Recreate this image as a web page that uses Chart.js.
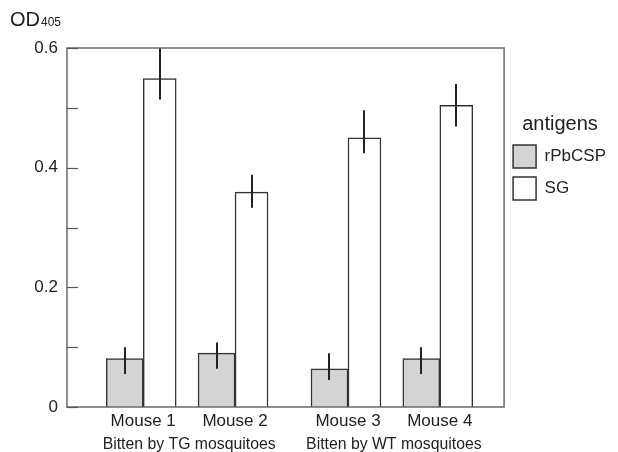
<!DOCTYPE html>
<html><head><meta charset="utf-8">
<script src="https://cdn.jsdelivr.net/npm/chart.js@4"></script>
<style>html,body{margin:0;padding:0;background:#fff}#wrap{width:618px;height:452px;position:relative}</style>
</head><body><div id="wrap"><canvas id="c"></canvas></div>
<script>
// ---- data ----
const categories = ['Mouse 1', 'Mouse 2', 'Mouse 3', 'Mouse 4'];
const groupOfCategory = [0, 0, 1, 1];
const groupLabels = ['Bitten by TG mosquitoes', 'Bitten by WT mosquitoes'];
const seriesNames = ['rPbCSP', 'SG'];
const rPbCSP = [0.081, 0.090, 0.064, 0.081];
const rPbCSPLow = [0.055, 0.064, 0.045, 0.055];
const rPbCSPHigh = [0.100, 0.108, 0.090, 0.100];
const sg = [0.549, 0.359, 0.450, 0.504];
const sgLow = [0.514, 0.333, 0.424, 0.469];
const sgHigh = [0.600, 0.388, 0.496, 0.540];
const yTickLabels = [0, 0.2, 0.4, 0.6];
const yAxisTitle = 'OD';
const yAxisSub = '405';
const legendTitle = 'antigens';

// ---- layout helpers ----
const FONT = "'Liberation Sans', Arial, sans-serif";
const GROUP_GAP = 0.23;
const pos = i => i + 1 + GROUP_GAP * groupOfCategory[i];
const groupPos = g => {
  const idx = categories.map((_, i) => i).filter(i => groupOfCategory[i] === g);
  return idx.reduce((s, i) => s + pos(i), 0) / idx.length;
};
const X_MIN = 0.17, X_MAX = pos(categories.length - 1) + 0.70;

const errs = [[rPbCSPLow, rPbCSPHigh], [sgLow, sgHigh]];

const extras = {
  id: 'extras',
  afterDatasetsDraw(chart) {
    const { ctx, chartArea: a, scales: { y } } = chart;
    ctx.save();
    ctx.beginPath();
    ctx.rect(a.left, a.top, a.right - a.left, a.bottom - a.top);
    ctx.clip();
    ctx.strokeStyle = '#222';
    ctx.lineWidth = 2;
    errs.forEach(([lo, hi], di) => {
      chart.getDatasetMeta(di).data.forEach((bar, j) => {
        const x = Math.round(bar.x);
        ctx.beginPath();
        ctx.moveTo(x, y.getPixelForValue(lo[j]));
        ctx.lineTo(x, y.getPixelForValue(hi[j]));
        ctx.stroke();
      });
    });
    ctx.restore();
    // frame
    ctx.save();
    ctx.strokeStyle = '#6a6a6a';
    ctx.lineWidth = 1.5;
    ctx.strokeRect(a.left, a.top, a.right - a.left, a.bottom - a.top);
    // inside ticks
    ctx.strokeStyle = '#555';
    ctx.lineWidth = 1.2;
    y.ticks.forEach(t => {
      const py = Math.round(y.getPixelForValue(t.value)) + 0.5;
      ctx.beginPath();
      ctx.moveTo(a.left, py);
      ctx.lineTo(a.left + 11, py);
      ctx.stroke();
    });
    ctx.restore();
  },
  afterDraw(chart) {
    const { ctx } = chart;
    ctx.save();
    ctx.fillStyle = '#222';
    ctx.textBaseline = 'alphabetic';
    ctx.font = '20px ' + FONT;
    ctx.fillText(yAxisTitle, 10, 26);
    const w = ctx.measureText(yAxisTitle).width;
    ctx.font = '12px ' + FONT;
    ctx.fillText(yAxisSub, 10 + w + 1, 26);
    ctx.restore();
  }
};

new Chart(document.getElementById('c'), {
  type: 'bar',
  data: {
    datasets: [
      {
        label: seriesNames[0],
        data: rPbCSP.map((v, i) => ({ x: pos(i), y: v })),
        backgroundColor: '#d4d4d4',
        borderColor: '#333',
        borderWidth: 1.5,
        barThickness: 37
      },
      {
        label: seriesNames[1],
        data: sg.map((v, i) => ({ x: pos(i), y: v })),
        backgroundColor: '#ffffff',
        borderColor: '#333',
        borderWidth: 1.5,
        barThickness: 33
      }
    ]
  },
  options: {
    responsive: true,
    maintainAspectRatio: false,
    animation: false,
    devicePixelRatio: 1,
    layout: { padding: { top: 48, left: 0, right: 2, bottom: 0 } },
    plugins: {
      tooltip: { enabled: false },
      legend: {
        position: 'right',
        align: 'start',
        title: {
          display: true, text: legendTitle, color: '#222',
          font: { family: FONT, size: 20, lineHeight: 1.0 }, padding: { top: 66, bottom: 2 }
        },
        labels: {
          boxWidth: 23, boxHeight: 23, padding: 9, color: '#222',
          font: { family: FONT, size: 17 }
        }
      }
    },
    scales: {
      x: {
        type: 'linear', position: 'bottom', min: X_MIN, max: X_MAX, weight: 0, offset: false,
        grid: { display: false, drawTicks: false }, border: { display: false },
        afterBuildTicks: s => { s.ticks = categories.map((_, i) => ({ value: pos(i) })); },
        afterFit: s => { s.height = 25; },
        ticks: {
          autoSkip: false, maxRotation: 0, padding: 4, color: '#222',
          font: { family: FONT, size: 17 },
          callback: v => { const i = categories.findIndex((_, k) => Math.abs(pos(k) - v) < 1e-6); return i >= 0 ? categories[i] : ''; }
        }
      },
      xg: {
        type: 'linear', position: 'bottom', min: X_MIN, max: X_MAX, weight: 1, offset: false,
        grid: { display: false, drawTicks: false }, border: { display: false },
        afterBuildTicks: s => { s.ticks = groupLabels.map((_, g) => ({ value: groupPos(g) })); },
        afterFit: s => { s.height = 20; },
        ticks: {
          autoSkip: false, maxRotation: 0, padding: 3, color: '#222',
          font: { family: FONT, size: 15.8 },
          callback: v => { const g = groupLabels.findIndex((_, k) => Math.abs(groupPos(k) - v) < 1e-6); return g >= 0 ? groupLabels[g] : ''; }
        }
      },
      y: {
        min: 0, max: 0.6,
        grid: { display: false, drawTicks: false }, border: { display: false },
        afterFit: s => { s.width = 67; },
        ticks: {
          stepSize: 0.1, padding: 9, color: '#222',
          font: { family: FONT, size: 17 },
          callback: v => { const r = Math.round(v * 10) / 10; return yTickLabels.some(t => Math.abs(t - r) < 1e-6) ? String(r) : ''; }
        }
      }
    }
  },
  plugins: [extras]
});
</script></body></html>
